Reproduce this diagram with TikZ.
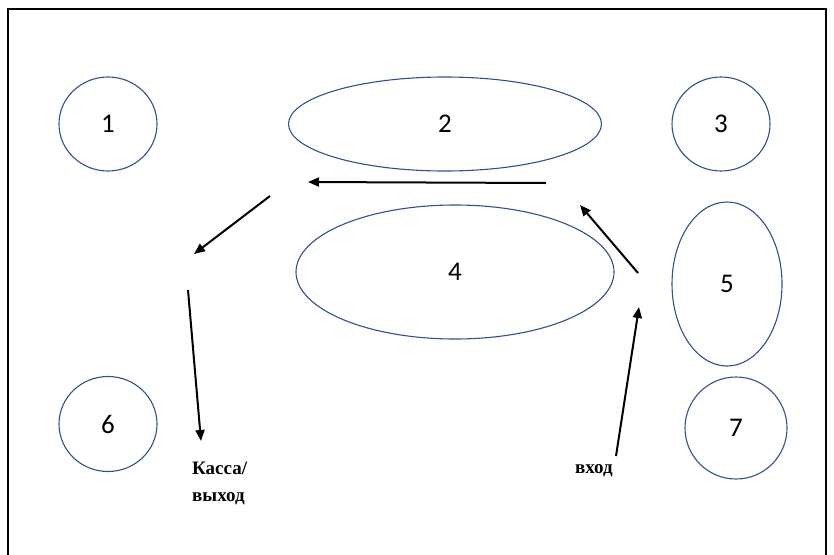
\documentclass[tikz,border=0pt]{standalone}
\usepackage{fontspec}
\setmainfont{Liberation Serif}
\newfontfamily\numfont{Carlito}
\usepackage{tikz}
\usetikzlibrary{shapes,arrows.meta,positioning}
\definecolor{outlineblue}{RGB}{47,82,143}

\begin{document}
\begin{tikzpicture}[x=1pt, y=-1pt,
    zone/.style={draw=outlineblue, line width=1.1pt, ellipse, inner sep=0pt, font=\numfont\fontsize{27}{30}\selectfont},
    path/.style={line width=2pt, -{Triangle[length=11pt,width=9pt]}},
    sign/.style={font=\bfseries\fontsize{19}{27}\selectfont, align=left, inner sep=0pt}]
    \useasboundingbox (0,0) rectangle (834,554);
    \draw [line width=1.6pt] (8,570) -- (8,9) -- (826,9) -- (826,570);

    \node [zone, minimum width=98pt, minimum height=94pt] (Z1) at (108,124) {1};
    \node [zone, minimum width=313pt, minimum height=94pt] (Z2) at (445,124) {2};
    \node [zone, minimum width=98pt, minimum height=94pt] (Z3) at (721,124) {3};
    \node [zone, minimum width=318pt, minimum height=134pt] (Z4) at (455,272) {4};
    \node [zone, minimum width=110pt, minimum height=164pt] (Z5) at (727,284) {5};
    \node [zone, minimum width=98pt, minimum height=95pt] (Z6) at (108,424) {6};
    \node [zone, minimum width=102pt, minimum height=102pt] (Z7) at (736,428) {7};

    \node [sign, anchor=north west] (exit) at (192,462) {Касса/\\выход};
    \node [sign, anchor=north west] (entry) at (575,464) {вход};

    \coordinate (inA) at (616,456);
    \coordinate (inB) at (639,307);
    \coordinate (upA) at (638,273);
    \coordinate (upB) at (580,205);
    \coordinate (midA) at (546,183);
    \coordinate (midB) at (308,182);
    \coordinate (outA) at (270,196);
    \coordinate (outB) at (194,254);
    \coordinate (downA) at (188,290);
    \coordinate (downB) at (201,441);

    \draw [path] (inA) -- (inB); % entrance
    \draw [path] (upA) -- (upB);
    \draw [path] (midA) -- (midB);
    \draw [path] (outA) -- (outB);
    \draw [path] (downA) -- (downB); % to the till
\end{tikzpicture}
\end{document}
